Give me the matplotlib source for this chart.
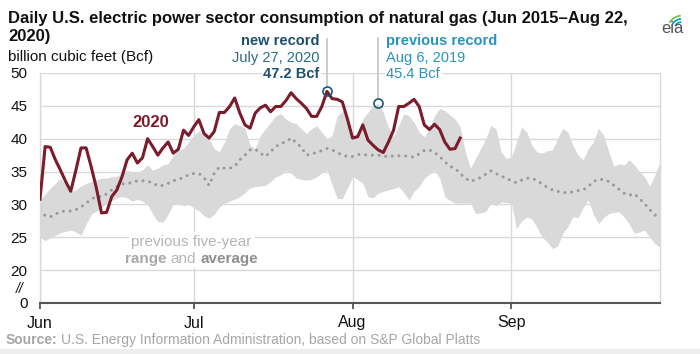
import numpy as np
import matplotlib
matplotlib.use("Agg")
import matplotlib.pyplot as plt
from matplotlib.patches import Rectangle, Arc

plt.rcParams['font.family'] = ['Liberation Sans', 'DejaVu Sans']

# days counted from Jun 1 (Jun 1 = 0, Sep 30 = 121)
month_ticks = [0, 30, 61, 92]
month_labels = ['Jun', 'Jul', 'Aug', 'Sep']

# previous five-year average (2015-2019)
avg_5yr = [
    29.1, 28.3, 28.1, 28.5, 28.9, 29.0, 29.0, 29.2, 29.6, 30.2,
    30.8, 31.2, 31.2, 31.6, 32.2, 32.7, 33.1, 33.2, 33.3, 33.6,
    33.6, 33.5, 33.3, 32.8, 32.9, 33.2, 33.6, 33.8, 34.1, 34.5,
    34.7, 34.7, 34.1, 32.9, 34.7, 35.7, 35.5, 35.5, 35.8, 36.8,
    37.5, 38.3, 38.4, 37.8, 37.3, 38.0, 38.8, 39.3, 39.5, 40.1,
    39.4, 38.7, 37.5, 37.7, 37.9, 38.2, 38.5, 38.3, 37.9, 37.5,
    37.3, 37.3, 37.6, 37.6, 37.5, 37.5, 37.5, 37.4, 37.2, 37.4,
    37.4, 37.4, 37.3, 37.2, 37.7, 38.2, 38.3, 37.9, 37.3, 36.5,
    35.8, 35.5, 34.7, 34.0, 33.5, 33.8, 34.1, 34.6, 35.1, 34.7,
    34.3, 34.0, 33.6, 33.3, 33.7, 34.0, 34.0, 33.6, 33.1, 32.6,
    32.2, 32.0, 31.8, 31.8, 31.9, 32.1, 32.2, 32.7, 33.5, 33.8,
    33.8, 33.5, 32.9, 32.3, 31.7, 31.4, 31.6, 30.9, 30.1, 29.2,
    28.4, 27.8,
]

# previous five-year maximum
max_5yr = [
    30.8, 31.5, 32.5, 33.2, 34.0, 33.0, 32.0, 32.2, 32.8, 33.2,
    33.5, 33.8, 34.0, 34.0, 34.2, 34.3, 34.8, 35.2, 35.0, 34.8,
    35.3, 36.0, 35.2, 35.5, 36.0, 36.2, 37.5, 38.2, 38.5, 39.5,
    40.5, 41.2, 40.5, 40.0, 38.5, 38.0, 39.5, 41.5, 42.3, 42.0,
    41.6, 39.0, 38.5, 40.5, 41.5, 42.5, 43.5, 43.8, 43.0, 42.5,
    42.3, 41.5, 40.8, 41.5, 42.0, 41.0, 40.0, 40.5, 43.5, 44.2,
    43.5, 40.5, 41.0, 43.0, 44.0, 45.0, 45.4, 44.0, 41.8, 40.3,
    42.0, 43.8, 43.5, 42.5, 41.0, 40.3, 41.5, 43.5, 44.6, 44.3,
    43.6, 43.0, 41.8, 38.0, 35.5, 37.0, 38.5, 40.0, 42.0, 41.5,
    38.0, 37.0, 37.2, 39.5, 41.8, 41.0, 39.0, 38.0, 37.8, 38.2,
    38.3, 40.0, 41.6, 41.0, 39.0, 37.5, 36.8, 38.5, 39.5, 41.6,
    40.5, 38.0, 35.8, 36.2, 36.0, 36.8, 36.0, 35.0, 34.2, 32.8,
    34.5, 36.5,
]

# previous five-year minimum
min_5yr = [
    25.0, 24.5, 24.9, 25.3, 25.7, 25.9, 26.1, 25.8, 25.3, 27.0,
    28.5, 29.0, 29.5, 30.2, 30.6, 31.0, 31.2, 31.0, 30.5, 30.8,
    30.5, 30.0, 28.5, 27.4, 27.3, 28.5, 30.0, 30.2, 29.8, 30.0,
    29.5, 29.0, 28.3, 27.9, 28.5, 29.6, 30.2, 30.5, 30.8, 31.2,
    31.8, 32.5, 32.7, 32.8, 32.9, 33.5, 34.2, 34.5, 35.2, 34.8,
    34.0, 33.8, 33.7, 33.8, 34.2, 34.8, 35.2, 33.0, 30.9, 30.9,
    32.5, 34.2, 33.8, 33.2, 31.2, 31.0, 31.7, 32.0, 32.2, 32.4,
    32.7, 31.8, 30.7, 32.0, 32.7, 34.0, 34.6, 35.2, 34.0, 31.2,
    30.6, 30.2, 30.2, 30.2, 30.2, 28.6, 28.7, 28.9, 30.2, 29.8,
    30.4, 30.3, 30.2, 26.3, 27.5, 28.1, 27.8, 26.5, 25.0, 24.3,
    23.3, 23.6, 25.6, 26.6, 28.1, 28.0, 29.5, 30.7, 28.5, 27.1,
    28.0, 28.6, 28.8, 28.9, 28.1, 27.0, 25.6, 25.8, 26.1, 25.0,
    24.0, 23.5,
]

# 2020, Jun 1 - Aug 22
gas_2020 = [
    30.8, 38.8, 38.7, 36.8, 35.2, 33.5, 32.0, 35.2, 38.6, 38.6,
    35.7, 32.5, 28.7, 28.8, 31.2, 32.2, 34.2, 36.8, 37.8, 36.3,
    37.1, 40.0, 38.8, 37.5, 38.6, 39.5, 37.8, 38.4, 41.3, 40.5,
    41.8, 42.9, 40.8, 40.1, 41.1, 44.0, 44.0, 44.9, 46.2, 43.9,
    42.1, 41.6, 43.9, 44.7, 45.1, 44.1, 44.9, 44.9, 45.8, 47.0,
    46.1, 45.4, 44.6, 43.4, 43.4, 44.9, 47.2, 46.1, 46.0, 45.6,
    43.0, 40.1, 40.3, 42.1, 39.8, 39.0, 38.3, 37.9, 39.5, 41.3,
    44.9, 44.9, 45.4, 46.0, 44.9, 42.1, 41.4, 42.2, 41.4, 39.5,
    38.4, 38.5, 40.1,
]

new_record_day, new_record_val = 56, 47.2
prev_record_day, prev_record_val = 66, 45.4

days_all = np.arange(len(avg_5yr))
days_2020 = np.arange(len(gas_2020))

fig = plt.figure(figsize=(7, 3.54), dpi=100)
ax = fig.add_axes([40 / 700, 1 - 303 / 354, 620 / 700, 230 / 354])

# axes styling
ax.set_xlim(0, 121)
ax.set_ylim(15, 50)
ax.set_yticks([15, 20, 25, 30, 35, 40, 45, 50])
ax.set_yticklabels(['0', '20', '25', '30', '35', '40', '45', '50'])
ax.set_xticks(month_ticks)
ax.set_xticklabels(month_labels)
ax.grid(True, color='#d9d9d9', lw=1)
ax.set_axisbelow(True)
ax.tick_params(axis='y', length=0, pad=9, labelsize=11, labelcolor='#111111')
ax.tick_params(axis='x', length=4, width=1.2, color='#444444', pad=5,
               labelsize=11.5, labelcolor='#111111')
for side in ['left', 'right', 'top']:
    ax.spines[side].set_color('#d9d9d9')
    ax.spines[side].set_linewidth(1)
ax.spines['top'].set_visible(False)
ax.spines['bottom'].set_color('#555555')
ax.spines['bottom'].set_linewidth(1.5)

ax.fill_between(days_all, min_5yr, max_5yr, color='#d9d9d9', lw=0, zorder=1)
ax.plot(days_all, avg_5yr, color='#9a9a9a', lw=2.2, linestyle=(0, (0.01, 2.2)),
        dash_capstyle='round', zorder=2)
ax.plot(days_2020, gas_2020, color='#7b1c2c', lw=2.2, zorder=3)
ax.set_xlim(0, 121)
ax.set_ylim(15, 50)

# record markers and leader lines
ax.plot([new_record_day, new_record_day], [new_record_val + 0.7, 55.2],
        color='#c8c8c8', lw=1.3, clip_on=False, zorder=2)
ax.plot([prev_record_day, prev_record_day], [prev_record_val + 0.7, 55.4],
        color='#c8c8c8', lw=1.3, clip_on=False, zorder=2)
ax.plot(new_record_day, new_record_val, 'o', ms=6.5, mfc='none', mec='#1d5873',
        mew=1.2, clip_on=False, zorder=4)
ax.plot(prev_record_day, prev_record_val, 'o', ms=6.5, mfc='none', mec='#1d5873',
        mew=1.2, clip_on=False, zorder=4)
ax.set_xlim(0, 121)
ax.set_ylim(15, 50)

box = dict(facecolor='white', edgecolor='none', pad=1)
ax.text(54.5, 54.8, 'new record', ha='right', va='center', fontsize=10.5,
        fontweight='bold', color='#1d4f6e', clip_on=False)
ax.text(54.5, 52.3, 'July 27, 2020', ha='right', va='center', fontsize=10.5,
        color='#2a6a8e', clip_on=False)
ax.text(54.5, 49.85, '47.2 Bcf', ha='right', va='center', fontsize=10.5,
        fontweight='bold', color='#1d4f6e', bbox=box, clip_on=False, zorder=5)
ax.text(67.6, 54.8, 'previous record', ha='left', va='center', fontsize=10.5,
        fontweight='bold', color='#2a93c0', clip_on=False)
ax.text(67.6, 52.3, 'Aug 6, 2019', ha='left', va='center', fontsize=10.5,
        color='#2a93c0', clip_on=False)
ax.text(67.6, 49.85, '45.4 Bcf', ha='left', va='center', fontsize=10.5,
        color='#2a93c0', bbox=box, clip_on=False, zorder=5)

ax.text(21.7, 42.4, '2020', ha='center', va='center', fontsize=12,
        fontweight='bold', color='#7b1c2c', zorder=5)

# "previous five-year / range and average" label
label_x = 29.6
ax.text(label_x, 24.3, 'previous five-year', ha='center', va='center', fontsize=11,
        color='#b5b5b5', bbox=dict(facecolor='white', edgecolor='none', pad=2), zorder=5)
renderer = fig.canvas.get_renderer()
parts = [('range', 'bold', '#a8a8a8'), ('and', 'normal', '#b5b5b5'),
         ('average', 'bold', '#8f8f8f')]
gap = 4.5
px_per_day = 620 / 121
px_per_unit = 230 / 35
widths = []
texts = []
for s, w, c in parts:
    t = ax.text(label_x, 21.7, s, fontsize=11, fontweight=w, color=c, va='center',
                ha='left', zorder=6)
    texts.append(t)
    widths.append(t.get_window_extent(renderer).width)
total = sum(widths) + gap * (len(parts) - 1)
x_day = label_x - total / 2 / px_per_day
ax.add_patch(Rectangle((x_day - 3 / px_per_day, 21.7 - 9 / px_per_unit),
                       (total + 6) / px_per_day, 18 / px_per_unit,
                       facecolor='white', edgecolor='none', zorder=5))
for t, w in zip(texts, widths):
    t.set_x(x_day)
    x_day += (w + gap) / px_per_day

# axis break mark
ax.text(-3.9, 17.1, '//', ha='center', va='center', fontsize=10,
        style='italic', color='#111111', clip_on=False)

# titles
fig.text(8 / 700, 1 - 23.5 / 354,
         'Daily U.S. electric power sector consumption of natural gas (Jun 2015\u2013Aug 22,',
         fontsize=12, fontweight='bold', color='#111111', va='baseline')
fig.text(8 / 700, 1 - 40.5 / 354, '2020)', fontsize=12, fontweight='bold',
         color='#111111', va='baseline')
fig.text(8 / 700, 1 - 61 / 354, 'billion cubic feet (Bcf)', fontsize=11,
         color='#111111', va='baseline')

# source line
src = fig.text(6 / 700, 1 - 344 / 354, 'Source:', fontsize=10, fontweight='bold',
               color='#a6a6a6', va='baseline')
bb = src.get_window_extent(renderer)
fig.text((bb.x1 + 3) / 700, 1 - 344 / 354,
         'U.S. Energy Information Administration, based on S&P Global Platts',
         fontsize=10, color='#a6a6a6', va='baseline')
fig.patches.append(Rectangle((0, 0), 1, 5 / 354, transform=fig.transFigure,
                             facecolor='#eeeeee', edgecolor='none'))

# eia logo
fig.text(672 / 700, 1 - 33 / 354, 'eia', fontsize=12, color='#555555',
         ha='center', va='baseline')
for r, c in [(10, '#0096d6'), (14, '#0096d6'), (18, '#7ab648')]:
    fig.patches.append(Arc((682, 354 - 30), r * 1.6, r * 1.6, theta1=95, theta2=150,
                           transform=None, color=c, lw=1.2))

fig.savefig('out.png', dpi=100)
